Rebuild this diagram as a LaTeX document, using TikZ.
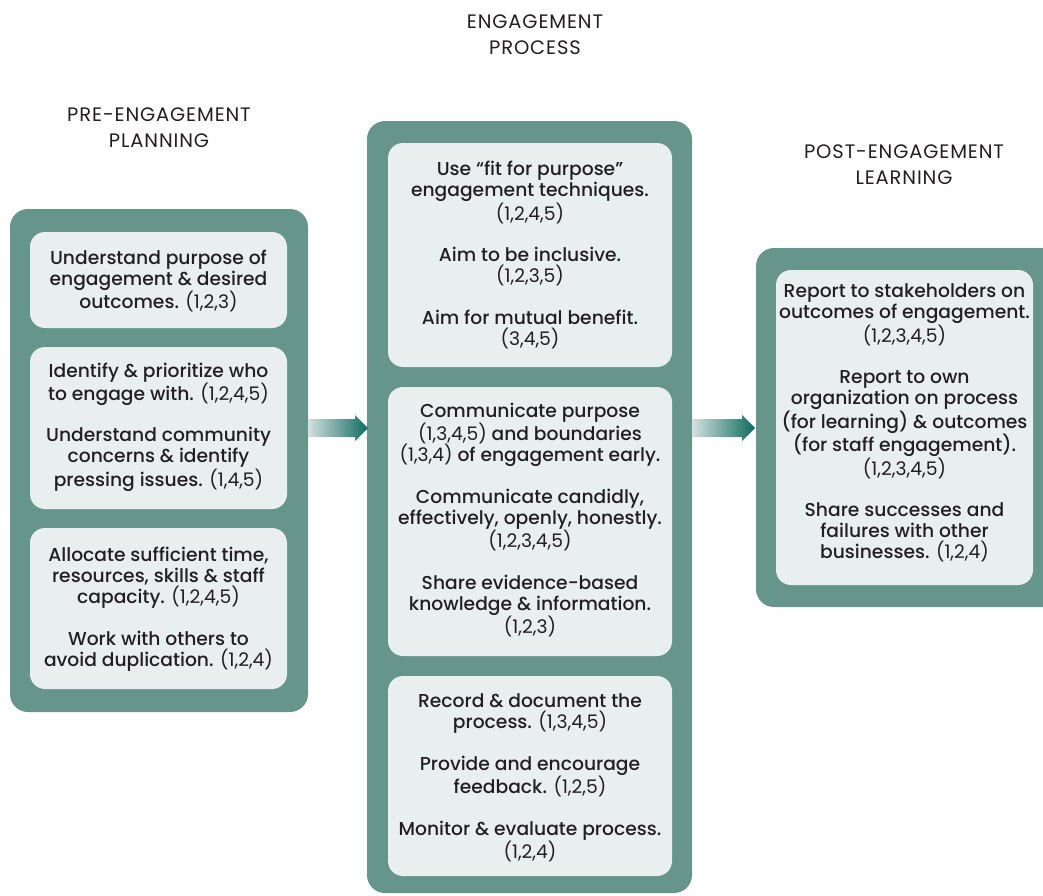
\documentclass[tikz,border=0pt]{standalone}
\usepackage{fontspec}
\setmainfont{Poppins}[BoldFont={Poppins Medium}]
\newfontfamily\headfont{Poppins}[LetterSpace=4.5]
\usetikzlibrary{calc}
\definecolor{panelc}{HTML}{66958C}
\definecolor{innerc}{HTML}{E9EFEF}
\definecolor{inkc}{HTML}{231F20}
\definecolor{arrowdark}{HTML}{0D6B5E}
\definecolor{arrowlight}{HTML}{D3E0DD}
\newcommand\nums[1]{\textmd{#1}}
\begin{document}
\begin{tikzpicture}[x=1pt,y=-1pt,
  panel/.style={fill=panelc,rounded corners=18pt},
  innerbox/.style={fill=innerc,rounded corners=15pt},
  txt/.style={align=center,text=inkc,inner sep=0pt,font=\fontsize{18.7}{21}\selectfont\bfseries},
  head/.style={align=center,text=inkc,inner sep=0pt,font=\headfont\fontsize{19.5}{26}\selectfont}]
\path[use as bounding box] (0,0) rectangle (1043,895);
% headings
\node[head] (h1) at (159,128) {PRE-ENGAGEMENT\\PLANNING};
\node[head] (h2) at (535,35) {ENGAGEMENT\\PROCESS};
\node[head] (h3) at (904,165) {POST-ENGAGEMENT\\LEARNING};
% panels
\fill[panel] (10,209) rectangle (308,712);
\fill[panel] (367,121) rectangle (692,893);
\fill[panel] (756,248) rectangle (1075,607);
% left boxes
\fill[innerbox] (30,232) rectangle (287,328);
\fill[innerbox] (30,347) rectangle (287,509);
\fill[innerbox] (30,528) rectangle (287,689);
% middle boxes
\fill[innerbox] (388,143) rectangle (672,367);
\fill[innerbox] (388,387) rectangle (672,656);
\fill[innerbox] (388,676) rectangle (672,876);
% right box
\fill[innerbox] (776,270) rectangle (1033,585);
% texts
\node[txt] (l1) at (158.5,281) {Understand purpose of\\engagement \& desired\\outcomes. \nums{(1,2,3)}};
\node[txt] (l2) at (158.5,427) {Identify \& prioritize who\\to engage with. \nums{(1,2,4,5)}\\[20.5pt]Understand community\\concerns \& identify\\pressing issues. \nums{(1,4,5)}};
\node[txt] (l3) at (158.5,609) {Allocate sufficient time,\\resources, skills \& staff\\capacity. \nums{(1,2,4,5)}\\[20.5pt]Work with others to\\avoid duplication. \nums{(1,2,4)}};
\node[txt] (m1) at (530,255) {Use “fit for purpose”\\engagement techniques.\\\nums{(1,2,4,5)}\\[20.5pt]Aim to be inclusive.\\\nums{(1,2,3,5)}\\[20.5pt]Aim for mutual benefit.\\\nums{(3,4,5)}};
\node[txt] (m2) at (530,520) {Communicate purpose\\\nums{(1,3,4,5)} and boundaries\\\nums{(1,3,4)} of engagement early.\\[20.5pt]Communicate candidly,\\effectively, openly, honestly.\\\nums{(1,2,3,4,5)}\\[20.5pt]Share evidence-based\\knowledge \& information.\\\nums{(1,2,3)}};
\node[txt] (m3) at (530,778) {Record \& document the\\process. \nums{(1,3,4,5)}\\[20.5pt]Provide and encourage\\feedback. \nums{(1,2,5)}\\[20.5pt]Monitor \& evaluate process.\\\nums{(1,2,4)}};
\node[txt] (r1) at (904.5,423) {Report to stakeholders on\\outcomes of engagement.\\\nums{(1,2,3,4,5)}\\[20.5pt]Report to own\\organization on process\\(for learning) \& outcomes\\(for staff engagement).\\\nums{(1,2,3,4,5)}\\[20.5pt]Share successes and\\failures with other\\businesses. \nums{(1,2,4)}};
% arrows
\coordinate (a1s) at (308,428);
\coordinate (a1e) at (368,428);
\coordinate (a2s) at (692,428);
\coordinate (a2e) at (755,428);
\foreach \s/\e in {a1s/a1e,a2s/a2e}{
  \shade[left color=arrowlight,right color=arrowdark]
    ($(\s)+(0,-9)$) -- ($(\e)+(-13,-9)$) -- ($(\e)+(-13,-13)$) -- (\e)
    -- ($(\e)+(-13,13)$) -- ($(\e)+(-13,9)$) -- ($(\s)+(0,9)$) -- cycle;
}
\end{tikzpicture}
\end{document}
